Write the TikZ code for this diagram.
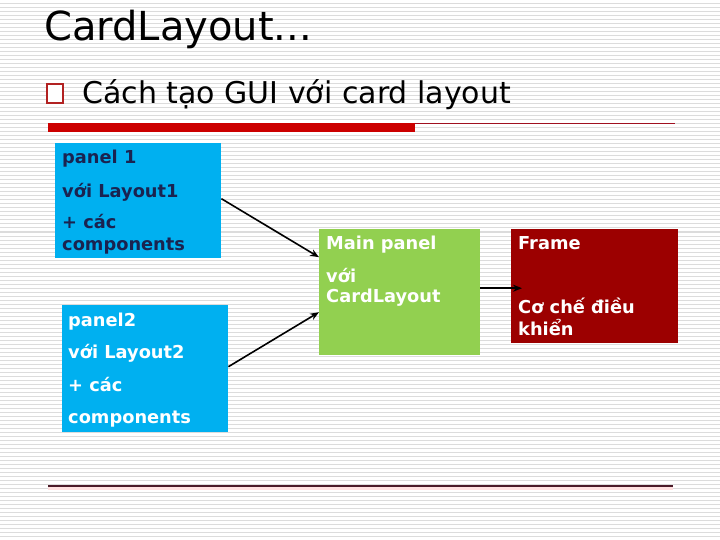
\documentclass[tikz,border=0pt]{standalone}
\usepackage{fontspec}
\setmainfont{DejaVu Sans}
\usetikzlibrary{calc}
\usetikzlibrary{positioning}
\usetikzlibrary{arrows.meta}

\definecolor{boxcyan}{HTML}{00B0F0}
\definecolor{boxgreen}{HTML}{92D050}
\definecolor{boxred}{HTML}{9C0000}
\definecolor{navytext}{HTML}{1A2350}
\definecolor{barred}{HTML}{CC0000}
\definecolor{thinred}{HTML}{A01020}
\definecolor{bulletred}{HTML}{B22222}
\definecolor{stripegray}{HTML}{DCDCDC}
\definecolor{rulemaroon}{HTML}{4A1A28}

\tikzset{
    panelbox/.style={draw=none, anchor=north west, inner sep=0pt},
    boxtext/.style={anchor=base west, inner sep=0pt, font=\bfseries\fontsize{17.8}{20}\selectfont},
    arr/.style={-{Stealth[length=9pt,width=7pt]}, line width=1.6pt, black}
}

\begin{document}
\begin{tikzpicture}[x=1pt, y=-1pt]
            \useasboundingbox (0,0) rectangle (720,540);
            % Striped background
            \fill[white] (0,0) rectangle (720,540);
            \foreach \y in {0,4,...,540} {
                \draw[stripegray, line width=1pt] (0,\y) -- (720,\y);
            }

            % Title and bullet
            \node[anchor=base west, inner sep=0pt, font=\fontsize{40}{44}\selectfont] (title) at (44,41) {CardLayout...};
            \draw[bulletred, line width=2pt, fill=white] (47,84) rectangle (63,103);
            \node[anchor=base west, inner sep=0pt, font=\fontsize{30}{34}\selectfont] (sub) at (82,104) {Cách tạo GUI với card layout};

            % Red bar under the heading
            \fill[barred] (48,123) rectangle (415,132);
            \draw[thinred, line width=1pt] (415,123.5) -- (675,123.5);

            % Panel 1
            \node[panelbox, fill=boxcyan, minimum width=166pt, minimum height=115pt] (panelA) at (55,143) {};
            \node[boxtext, navytext] (pA1) at (62,164) {panel 1};
            \node[boxtext, navytext] (pA2) at (62,197) {với Layout1};
            \node[boxtext, navytext] (pA3) at (62,229) {+ các};
            \node[boxtext, navytext] (pA4) at (62,250) {components};

            % Panel 2
            \node[panelbox, fill=boxcyan, minimum width=166pt, minimum height=127pt] (panelB) at (62,305) {};
            \node[boxtext, white] (pB1) at (68,326) {panel2};
            \node[boxtext, white] (pB2) at (68,358) {với Layout2};
            \node[boxtext, white] (pB3) at (68,391) {+ các};
            \node[boxtext, white] (pB4) at (68,423) {components};

            % Main panel
            \node[panelbox, fill=boxgreen, minimum width=161pt, minimum height=126pt] (mainP) at (319,229) {};
            \node[boxtext, white] (m1) at (326,249) {Main panel};
            \node[boxtext, white] (m2) at (326,282) {với};
            \node[boxtext, white] (m3) at (326,302) {CardLayout};

            % Frame
            \node[panelbox, fill=boxred, minimum width=167pt, minimum height=114pt] (frame) at (511,229) {};
            \node[boxtext, white] (f1) at (518,249) {Frame};
            \node[boxtext, white] (f2) at (518,313) {Cơ chế điều};
            \node[boxtext, white] (f3) at (518,335) {khiển};

            % Arrows
            \draw[arr] ($(panelA.east)+(0,-2)$) -- ($(mainP.west)+(0,-35)$);
            \draw[arr] ($(panelB.east)+(0,-2)$) -- ($(mainP.west)+(0,20)$);
            \draw[arr] ($(mainP.east)+(0,-4)$) -- ($(frame.west)+(11,2)$);

            % Bottom rule
            \draw[red!12, line width=3pt] (48,488.5) -- (673,488.5);
            \draw[rulemaroon, line width=1.3pt] (48,486) -- (673,486);
        \end{tikzpicture}
\end{document}
